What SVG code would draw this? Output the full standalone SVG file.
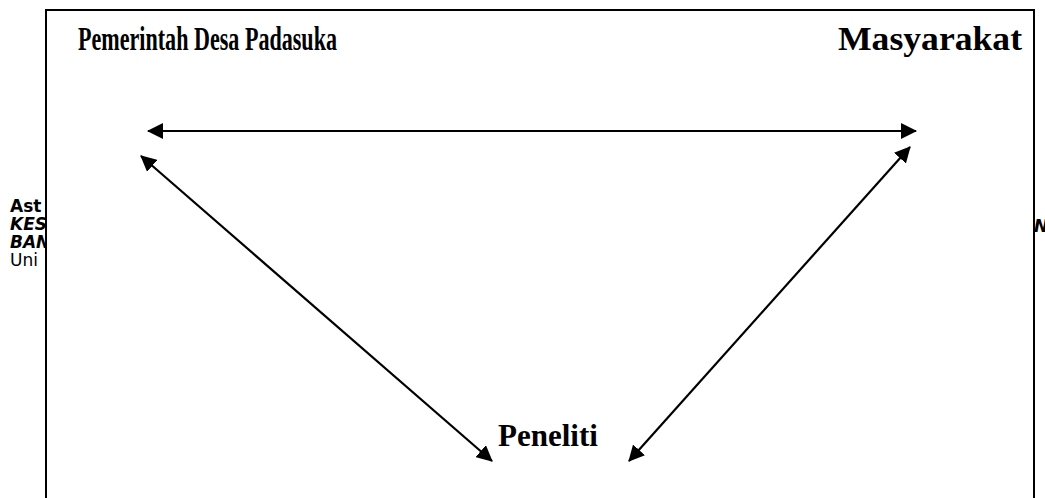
<svg xmlns="http://www.w3.org/2000/svg" width="1045" height="498" viewBox="0 0 1045 498">
<style>
.bg{font-family:"DejaVu Sans","Liberation Sans",sans-serif;font-size:17px;fill:#000}
.lbl{font-family:"Liberation Serif","Times New Roman",serif;font-weight:bold;fill:#000}
.con{stroke:#000;stroke-width:2.2;fill:none;marker-start:url(#ah);marker-end:url(#ah)}
</style>
<defs>
<marker id="ah" viewBox="0 0 16 16" refX="15" refY="8" markerWidth="16" markerHeight="16" markerUnits="userSpaceOnUse" orient="auto-start-reverse">
<path d="M0,0 L16,8 L0,16 Z" fill="#000"/>
</marker>
</defs>
<rect width="1045" height="498" fill="#fff"/>
<g id="background-text">
<text class="bg" x="10" y="212" font-weight="bold">Ast</text>
<text class="bg" x="10" y="230" font-weight="bold" font-style="italic">KES</text>
<text class="bg" x="10" y="248" font-weight="bold" font-style="italic">BAN</text>
<text class="bg" x="10" y="266">Uni</text>
<text class="bg" x="1034" y="232" font-weight="bold" font-style="italic">N</text>
</g>
<rect id="frame" x="46" y="10" width="988" height="500" fill="#fff" stroke="#000" stroke-width="2"/>
<g id="connectors">
<line class="con" x1="148" y1="131" x2="916" y2="131"/>
<line class="con" x1="141" y1="156" x2="492" y2="461"/>
<line class="con" x1="910" y1="147" x2="629" y2="461"/>
</g>
<g id="node-pemerintah">
<text class="lbl" x="78" y="50" font-size="34" textLength="259" lengthAdjust="spacingAndGlyphs">Pemerintah Desa Padasuka</text>
</g>
<g id="node-masyarakat">
<text class="lbl" x="1022" y="50" font-size="34" text-anchor="end" textLength="184" lengthAdjust="spacingAndGlyphs">Masyarakat</text>
</g>
<g id="node-peneliti">
<text class="lbl" x="498" y="446" font-size="31">Peneliti</text>
</g>
</svg>
